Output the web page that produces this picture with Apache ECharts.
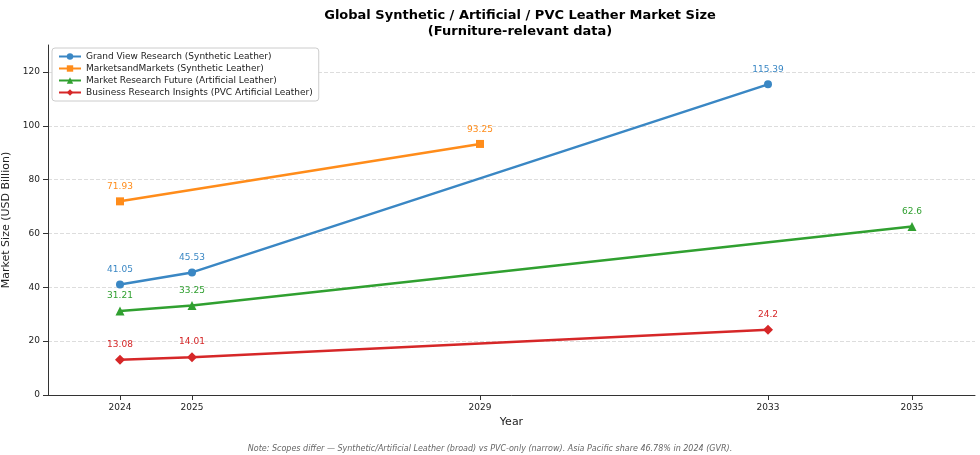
<!DOCTYPE html>
<html lang="en">
<head>
    <meta charset="UTF-8">
    <title>Leather Market Size</title>
    <script src="https://cdn.jsdelivr.net/npm/echarts@6/dist/echarts.min.js"></script>
</head>
<body style="margin:0">
<div id="chart" style="width:980px;height:455px;"></div>
<script type="text/javascript">
    var yearTicks = [2024, 2025, 2029, 2033, 2035];
    var yTicks = [0, 20, 40, 60, 80, 100, 120];

    var gvrYears = [2024, 2025, 2033];
    var gvrValues = [41.05, 45.53, 115.39];
    var mmYears = [2024, 2029];
    var mmValues = [71.93, 93.25];
    var mrfYears = [2024, 2025, 2035];
    var mrfValues = [31.21, 33.25, 62.6];
    var briYears = [2024, 2025, 2033];
    var briValues = [13.08, 14.01, 24.2];

    function pairs(xs, ys) {
        var out = [];
        for (var i = 0; i < xs.length; i++) out.push([xs[i], ys[i]]);
        return out;
    }

    function line(name, xs, ys, color, symbol, size) {
        return {
            name: name,
            type: 'line',
            data: pairs(xs, ys),
            symbol: symbol,
            symbolSize: size,
            itemStyle: {color: color},
            lineStyle: {color: color, width: 2.5},
            label: {
                show: true, position: 'top', distance: 6, color: color, fontSize: 9,
                formatter: function (p) { return p.value[1]; }
            }
        };
    }

    var myChart = echarts.init(document.getElementById('chart'));
    var option = {
        animation: false,
        textStyle: {fontFamily: 'DejaVu Sans'},
        title: {
            text: 'Global Synthetic / Artificial / PVC Leather Market Size\n(Furniture-relevant data)',
            left: 515, top: 3, textAlign: 'center',
            textStyle: {fontSize: 13, fontWeight: 'bold', color: '#000', lineHeight: 16}
        },
        legend: {
            orient: 'vertical', left: 52, top: 48,
            backgroundColor: '#fff', borderColor: '#ccc', borderWidth: 1, borderRadius: 3,
            padding: [4, 6], itemGap: 3, itemWidth: 22, itemHeight: 8,
            textStyle: {fontSize: 9, color: '#222'}
        },
        graphic: [{
            type: 'text', left: 'center', top: 445,
            style: {
                text: 'Note: Scopes differ — Synthetic/Artificial Leather (broad) vs PVC-only (narrow). Asia Pacific share 46.78% in 2024 (GVR).',
                fontSize: 8, fontStyle: 'italic', fill: '#666', fontFamily: 'DejaVu Sans'
            }
        }],
        grid: {left: 48, top: 45, right: 5, bottom: 60, containLabel: false, outerBoundsMode: 'none'},
        xAxis: {
            type: 'value', min: 2023, max: 2035.875,
            name: 'Year', nameLocation: 'middle', nameGap: 20,
            nameTextStyle: {fontSize: 11, color: '#222'},
            splitLine: {show: false},
            axisLine: {lineStyle: {color: '#333'}},
            axisTick: {show: true, customValues: yearTicks, lineStyle: {color: '#333'}},
            axisLabel: {
                customValues: yearTicks, fontSize: 9, color: '#222',
                formatter: function (v) { return String(v); }
            }
        },
        yAxis: {
            type: 'value', min: 0, max: 130, interval: 10,
            name: 'Market Size (USD Billion)', nameLocation: 'middle', nameGap: 30,
            nameTextStyle: {fontSize: 11, color: '#222'},
            axisLine: {show: true, lineStyle: {color: '#333'}},
            axisTick: {show: true, customValues: yTicks, lineStyle: {color: '#333'}},
            axisLabel: {customValues: yTicks, fontSize: 9, color: '#222'},
            splitLine: {show: true, lineStyle: {type: 'dashed', color: '#ddd'}}
        },
        series: [
            line('Grand View Research (Synthetic Leather)', gvrYears, gvrValues, '#3a87c4', 'circle', 8),
            line('MarketsandMarkets (Synthetic Leather)', mmYears, mmValues, '#ff8c1a', 'rect', 8),
            line('Market Research Future (Artificial Leather)', mrfYears, mrfValues, '#30a030', 'triangle', 9),
            line('Business Research Insights (PVC Artificial Leather)', briYears, briValues, '#d62728', 'diamond', 10)
        ]
    };
    myChart.setOption(option);
</script>
</body>
</html>
